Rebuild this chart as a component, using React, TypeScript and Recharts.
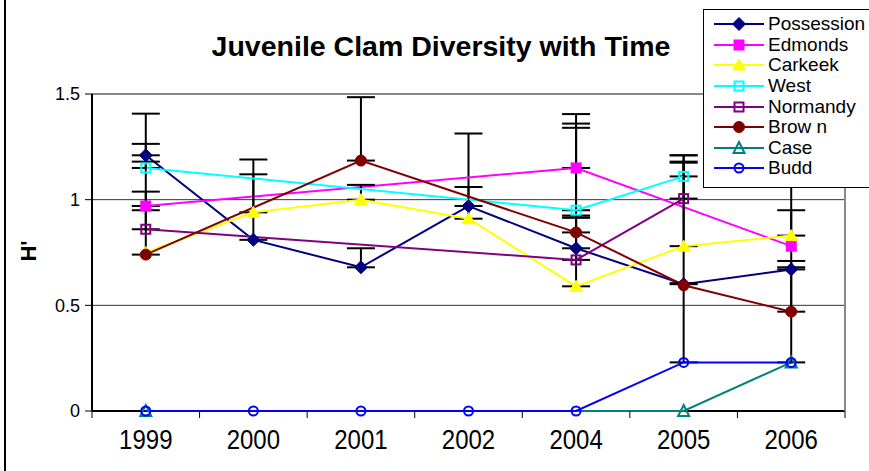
import React from "react";
import {
  LineChart,
  Line,
  XAxis,
  YAxis,
  CartesianGrid,
  ErrorBar,
  ReferenceLine,
} from "recharts";

const years = ["1999", "2000", "2001", "2002", "2004", "2005", "2006"];

const possession = [1.21, 0.81, 0.68, 0.97, 0.77, 0.6, 0.67];
const edmonds = [0.97, null, null, null, 1.15, null, 0.78];
const carkeek = [0.75, 0.94, 1.0, 0.91, 0.59, 0.78, 0.83];
const west = [1.15, null, null, null, 0.95, 1.11, null];
const normandy = [0.86, null, null, null, 0.715, 1.005, null];
const brown = [0.74, null, 1.185, null, 0.845, 0.595, 0.47];
const caseVals = [0, null, null, null, null, 0, 0.23];
const budd = [0, 0, 0, 0, 0, 0.23, 0.23];

// plus-only error bars
const possessionErr = [0.197, 0.31, 0.09, 0.343, 0.155, 0.58, 0.04];
const edmondsErr = [0.068, null, null, null, 0.255, null, null];
const carkeekErr = [null, 0.25, 0.07, 0.15, 0.77, 0.43, 0.12];
const westErr = [0.114, null, null, null, 0.39, 0.1, null];
const normandyErr = [0.09, null, null, null, 0.2, 0.17, null];
const brownErr = [0.44, null, 0.3, null, 0.07, null, 0.21];
const caseErr = [null, null, null, null, null, null, null];
const buddErr = [null, null, null, null, null, 0.375, 0.9];

const yTicks = [0, 0.5, 1, 1.5];
// category centres (labels) and boundaries (tick marks)
const xTicks = [-0.5, 0, 0.5, 1, 1.5, 2, 2.5, 3, 3.5, 4, 4.5, 5, 5.5, 6, 6.5];

type Shape = "diamond" | "square" | "triangle" | "circle";

const series = [
  { key: "Possession", label: "Possession", color: "#000080", shape: "diamond" as Shape, filled: true, values: possession, err: possessionErr },
  { key: "Edmonds", label: "Edmonds", color: "#FF00FF", shape: "square" as Shape, filled: true, values: edmonds, err: edmondsErr },
  { key: "Carkeek", label: "Carkeek", color: "#FFFF00", shape: "triangle" as Shape, filled: true, values: carkeek, err: carkeekErr },
  { key: "West", label: "West", color: "#00FFFF", shape: "square" as Shape, filled: false, values: west, err: westErr },
  { key: "Normandy", label: "Normandy", color: "#800080", shape: "square" as Shape, filled: false, values: normandy, err: normandyErr },
  { key: "Brown", label: "Brow n", color: "#800000", shape: "circle" as Shape, filled: true, values: brown, err: brownErr },
  { key: "Case", label: "Case", color: "#008080", shape: "triangle" as Shape, filled: false, values: caseVals, err: caseErr },
  { key: "Budd", label: "Budd", color: "#0000FF", shape: "circle" as Shape, filled: false, values: budd, err: buddErr },
];

const data = years.map((year, i) => {
  const row: any = { idx: i, year };
  series.forEach((s) => {
    row[s.key] = s.values[i];
    row[s.key + "Err"] = s.err[i] == null ? null : [0, s.err[i]];
  });
  return row;
});

const FONT = "Arial, 'Liberation Sans', sans-serif";

const Marker = ({ shape, filled, color, cx, cy }: any) => {
  const fill = filled ? color : "none";
  const sw = filled ? 1 : 2;
  if (shape === "diamond") {
    const h = 6.5;
    return (
      <polygon
        points={`${cx},${cy - h} ${cx + h},${cy} ${cx},${cy + h} ${cx - h},${cy}`}
        fill={fill}
        stroke={color}
        strokeWidth={sw}
      />
    );
  }
  if (shape === "square") {
    const h = filled ? 5 : 4.5;
    return <rect x={cx - h} y={cy - h} width={h * 2} height={h * 2} fill={fill} stroke={color} strokeWidth={sw} />;
  }
  if (shape === "triangle") {
    const w = filled ? 6.5 : 5.5;
    return (
      <polygon
        points={`${cx},${cy - 6} ${cx + w},${cy + 5} ${cx - w},${cy + 5}`}
        fill={fill}
        stroke={color}
        strokeWidth={sw}
      />
    );
  }
  return <circle cx={cx} cy={cy} r={filled ? 5.5 : 4.5} fill={fill} stroke={color} strokeWidth={sw} />;
};

const makeDot = (s: any) => (props: any) => {
  const { cx, cy, value, index } = props;
  if (value == null || cx == null || cy == null) return <g key={`${s.key}-${index}`} />;
  return (
    <g key={`${s.key}-${index}`}>
      <Marker shape={s.shape} filled={s.filled} color={s.color} cx={cx} cy={cy} />
    </g>
  );
};

const XTick = (props: any) => {
  const { x, y, payload } = props;
  const v = payload.value;
  if (!Number.isInteger(v)) {
    return <line x1={x} y1={y} x2={x} y2={y + 7} stroke="#000" strokeWidth={1} />;
  }
  return (
    <text
      transform={`translate(${x},${y + 38}) scale(1,1.15)`}
      textAnchor="middle"
      fontSize={24}
      fontFamily={FONT}
      fill="#000"
    >
      {years[v]}
    </text>
  );
};

const LegendBox = () => (
  <div
    style={{
      position: "absolute",
      left: 703,
      top: 9,
      width: 190,
      height: 179,
      border: "1.5px solid #000",
      background: "#fff",
      paddingTop: 4,
      boxSizing: "border-box",
    }}
  >
    {series.map((s) => (
      <div key={s.key} style={{ display: "flex", alignItems: "center", height: 20.6 }}>
        <svg width={64} height={20} style={{ flex: "none" }}>
          <line x1={10} y1={10} x2={60} y2={10} stroke={s.color} strokeWidth={2} />
          <Marker shape={s.shape} filled={s.filled} color={s.color} cx={35} cy={10} />
        </svg>
        <span style={{ fontFamily: FONT, fontSize: 19, color: "#000", whiteSpace: "nowrap" }}>{s.label}</span>
      </div>
    ))}
  </div>
);

export default function App() {
  return (
    <div
      style={{
        position: "absolute",
        left: 0,
        top: 0,
        width: 869,
        height: 471,
        overflow: "hidden",
        background: "#fff",
      }}
    >
      <div style={{ position: "absolute", left: 4, top: 0, width: 2, height: 471, background: "#000" }} />
      <div
        style={{
          position: "absolute",
          left: 0,
          width: 869,
          top: 29,
          textAlign: "center",
          fontFamily: FONT,
          fontWeight: "bold",
          fontSize: 28.5,
          lineHeight: "34px",
          paddingLeft: 13,
          boxSizing: "border-box",
        }}
      >
        Juvenile Clam Diversity with Time
      </div>
      <div
        style={{
          position: "absolute",
          left: 14,
          top: 238,
          width: 30,
          textAlign: "center",
          fontFamily: FONT,
          fontWeight: "bold",
          fontSize: 22,
          transform: "rotate(-90deg)",
        }}
      >
        H'
      </div>
      <div style={{ position: "absolute", left: 0, top: 0 }}>
        <LineChart width={869} height={471} data={data} margin={{ top: 94, right: 24, left: 0, bottom: 0 }}>
          <CartesianGrid xAxisId="x" yAxisId="y" vertical={false} stroke="#333" strokeWidth={1} horizontalValues={[0.5, 1]} />
          {/* x axis baseline drawn under the series so the zero lines sit on top */}
          <CartesianGrid xAxisId="x" yAxisId="y" vertical={false} stroke="#000" strokeWidth={2} horizontalValues={[0]} />
          <XAxis
            xAxisId="x"
            dataKey="idx"
            type="number"
            domain={[-0.5, 6.5]}
            ticks={xTicks}
            tick={<XTick />}
            tickSize={0}
            tickMargin={0}
            tickLine={false}
            height={60}
            axisLine={false}
            interval={0}
          />
          <YAxis
            yAxisId="y"
            type="number"
            domain={[0, 1.5]}
            ticks={yTicks}
            tickFormatter={(v: number) => String(v)}
            width={92}
            tickSize={7}
            tickMargin={5}
            axisLine={{ stroke: "#000", strokeWidth: 2 }}
            tickLine={{ stroke: "#000", strokeWidth: 1 }}
            tick={{ fill: "#000", fontSize: 18, fontFamily: FONT }}
            interval={0}
          />
          <ReferenceLine xAxisId="x" yAxisId="y" y={1.5} stroke="#888" strokeWidth={2} />
          <ReferenceLine xAxisId="x" yAxisId="y" x={6.5} stroke="#888" strokeWidth={2} />
          {series.map((s) => (
            <Line
              key={s.key}
              xAxisId="x"
              yAxisId="y"
              type="linear"
              dataKey={s.key}
              stroke={s.color}
              strokeWidth={2}
              connectNulls
              isAnimationActive={false}
              dot={makeDot(s)}
              activeDot={false}
            >
              <ErrorBar dataKey={s.key + "Err"} direction="y" width={14} stroke="#000" strokeWidth={2} />
            </Line>
          ))}
        </LineChart>
      </div>
      <LegendBox />
    </div>
  );
}
